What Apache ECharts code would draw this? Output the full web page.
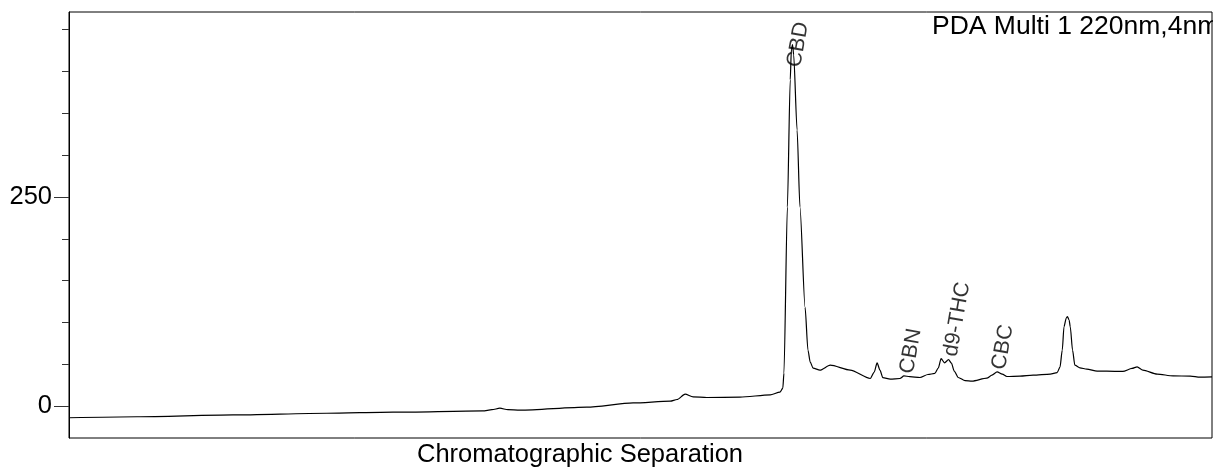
<!DOCTYPE html>
<html>
<head>
<meta charset="utf-8">
<script src="https://cdn.jsdelivr.net/npm/echarts@6/dist/echarts.min.js"></script>
<style>
html,body{margin:0;padding:0;background:#fff;}
#chart{width:1213px;height:468px;}
</style>
</head>
<body>
<div id="chart"></div>
<script>
// Retention time (min, arbitrary scale) and detector response (mAU)
const times = [0.00,1.19,2.87,4.51,5.67,7.24,7.40,7.54,7.68,7.89,9.06,9.87,10.52,10.64,10.78,10.92,11.16,11.74,12.27,12.44,12.49,12.51,12.57,12.62,12.64,12.66,12.68,12.74,12.79,12.88,12.93,12.97,13.02,13.14,13.32,13.67,14.02,14.09,14.14,14.19,14.24,14.37,14.54,14.61,14.71,14.89,15.03,15.15,15.21,15.26,15.32,15.39,15.44,15.49,15.56,15.68,15.80,16.06,16.15,16.24,16.33,16.41,16.64,16.87,17.17,17.29,17.34,17.38,17.41,17.45,17.47,17.50,17.52,17.56,17.60,17.69,17.81,17.99,18.16,18.44,18.60,18.69,18.79,19.04,19.32,19.62,19.79,20.00];
const signal = [-13.8,-12.6,-10.4,-8.4,-7.2,-5.6,-4.2,-2.4,-4.2,-4.8,-1.2,3.9,6.0,8.0,14.4,11.1,10.4,10.8,13.5,16.7,21.5,39.5,238,390,426,432,420,330,238,118,67,52.6,45.5,43.1,49.0,43.1,33.1,40.7,51.8,43.1,34.1,32.3,33.1,36.2,35.3,34.3,37.9,39.1,45.5,56.8,51.8,55.6,51.4,41.9,34.3,30.5,29.9,33.5,37.1,41.0,38.3,35.5,35.9,37.1,38.3,40.1,46.7,67.0,94.9,105.3,107.1,102.9,94.9,67.0,49.0,45.8,44.3,41.9,41.9,41.5,45.1,47.0,43.1,38.3,36.2,35.9,34.7,35.0];

// Peak annotations
const peakNames = ['CBD','CBN','d9-THC','CBC'];
const peakTimes = [12.76,14.73,15.54,16.34];
const peakLabelY = [432,65.8,104,70.6];

// Axis ticks
const yMajorTicks = [0,250];
const yMinorTicks = [50,100,150,200,300,350,400,450];

const FONT = "'Liberation Sans', Arial, sans-serif";

const lineData = times.map((t,i)=>[t, signal[i]]);
const labelData = peakNames.map((n,i)=>({name:n, value:[peakTimes[i], peakLabelY[i]]}));

const chart = echarts.init(document.getElementById('chart'));
chart.setOption({
  animation:false,
  backgroundColor:'#fff',
  grid:{left:69,right:1,top:12,bottom:30,show:true,borderColor:'#000',borderWidth:1,backgroundColor:'transparent'},
  xAxis:{type:'value',min:0,max:20,axisLine:{show:false},axisTick:{show:false},axisLabel:{show:false},splitLine:{show:false}},
  yAxis:[
    {type:'value',min:-38,max:471,position:'left',
     axisLine:{show:true,lineStyle:{color:'#000',width:1}},
     axisTick:{show:true,length:15,customValues:yMajorTicks,lineStyle:{color:'#333',width:1}},
     axisLabel:{show:true,customValues:yMajorTicks,margin:17,fontSize:25.5,color:'#000',fontFamily:FONT},
     splitLine:{show:false}},
    {type:'value',min:-38,max:471,position:'left',
     axisLine:{show:false},
     axisTick:{show:true,length:7,customValues:yMinorTicks,lineStyle:{color:'#333',width:1}},
     axisLabel:{show:false},
     splitLine:{show:false}}
  ],
  series:[
    {type:'line',data:lineData,showSymbol:false,symbol:'none',yAxisIndex:0,
     smooth:0.25,smoothMonotone:'x',
     lineStyle:{color:'#000',width:1.2},silent:true,clip:true},
    {type:'scatter',data:labelData,symbolSize:0,yAxisIndex:0,silent:true,
     label:{show:true,position:'inside',formatter:'{b}',rotate:80,fontSize:21.5,color:'#000',fontFamily:FONT}}
  ],
  graphic:[
    {type:'text',left:932,top:13,style:{text:'PDA Multi 1 220nm,4nm',fontSize:26.5,fill:'#000',fontFamily:FONT}},
    {type:'text',left:417,top:442,style:{text:'Chromatographic Separation',fontSize:25.5,fill:'#000',fontFamily:FONT}}
  ]
});
</script>
</body>
</html>
